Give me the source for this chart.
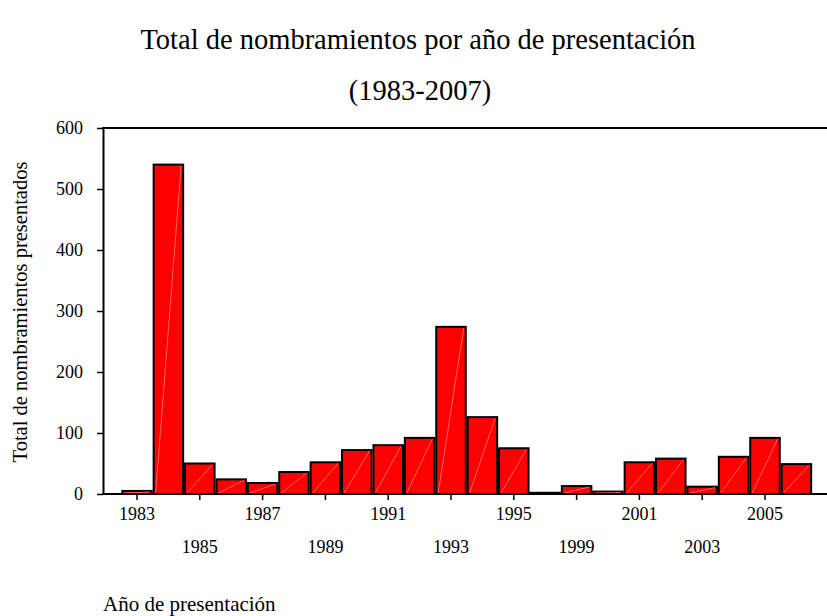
<!DOCTYPE html>
<html lang="es">
  <head>
    <meta charset="UTF-8" />
    <title>Total de nombramientos</title>
    <script src="https://d3js.org/d3.v7.min.js"></script>
    <style>
      body {
        margin: 0;
        background: #fff;
      }
      text {
        font-family: "Liberation Serif", "Times New Roman", serif;
        fill: #000;
      }
    </style>
  </head>
  <body>
    <div class="chart"></div>

    <script>
      // años (1997 y 1998 no aparecen en el gráfico)
      var years = [
        "1983", "1984", "1985", "1986", "1987", "1988", "1989", "1990",
        "1991", "1992", "1993", "1994", "1995", "1996", "1999", "2000",
        "2001", "2002", "2003", "2004", "2005", "2006"
      ];
      var totals = [
        5, 540, 50, 24, 18, 36, 52, 72, 80, 92, 274, 126, 75, 2, 13, 4,
        52, 58, 12, 61, 92, 49
      ];
      var yTicks = [0, 100, 200, 300, 400, 500, 600];

      var W = 827, H = 616;
      var plotLeft = 103, plotBottom = 494, plotTop = 128;

      var data = years.map(function (y, i) {
        return { year: y, value: totals[i], i: i };
      });

      var svg = d3
        .select(".chart")
        .append("svg")
        .attr("width", W)
        .attr("height", H);

      var xScale = d3
        .scaleBand()
        .domain(years)
        .range([plotLeft, 830.4])
        .paddingInner(0.06)
        .paddingOuter(0.613);

      var yScale = d3
        .scaleLinear()
        .domain([0, 600])
        .range([plotBottom, plotTop]);

      // titulo
      svg
        .append("text")
        .attr("x", 418)
        .attr("y", 49)
        .attr("text-anchor", "middle")
        .style("font-size", "28.5px")
        .text("Total de nombramientos por año de presentación");
      svg
        .append("text")
        .attr("x", 420)
        .attr("y", 100)
        .attr("text-anchor", "middle")
        .style("font-size", "28.5px")
        .text("(1983-2007)");

      // barras
      var bars = svg.append("g");
      bars
        .selectAll("rect")
        .data(data)
        .enter()
        .append("rect")
        .attr("x", (d) => xScale(d.year))
        .attr("y", (d) => yScale(d.value))
        .attr("width", xScale.bandwidth())
        .attr("height", (d) => yScale(0) - yScale(d.value))
        .attr("fill", "#ff0000")
        .attr("stroke", "#000")
        .attr("stroke-width", 2);

      // linea diagonal tenue dentro de cada barra
      bars
        .selectAll("line")
        .data(data.filter((d) => d.value > 3))
        .enter()
        .append("line")
        .attr("x1", (d) => xScale(d.year) + 2)
        .attr("y1", yScale(0) - 1)
        .attr("x2", (d) => xScale(d.year) + xScale.bandwidth() - 2)
        .attr("y2", (d) => yScale(d.value) + 1)
        .attr("stroke", "#ff9c9c")
        .attr("stroke-opacity", 0.8)
        .attr("stroke-width", 0.8);

      // eje y
      var yAxis = d3
        .axisLeft(yScale)
        .tickValues(yTicks)
        .tickSize(6)
        .tickSizeOuter(0)
        .tickPadding(14);
      var gy = svg
        .append("g")
        .attr("transform", "translate(" + plotLeft + ",0)")
        .call(yAxis);
      gy.selectAll("text").style("font-size", "18px");
      gy.select(".domain").attr("stroke-width", 2);
      gy.selectAll(".tick line").attr("stroke-width", 1.5);

      // linea superior
      svg
        .append("line")
        .attr("x1", plotLeft - 1)
        .attr("x2", W)
        .attr("y1", yScale(600))
        .attr("y2", yScale(600))
        .attr("stroke", "#000")
        .attr("stroke-width", 2);

      // eje x
      var shown = years.filter((d, i) => i % 2 === 0);
      var xAxis = d3
        .axisBottom(xScale)
        .tickValues(shown)
        .tickSize(6)
        .tickSizeOuter(0)
        .tickPadding(10);
      var gx = svg
        .append("g")
        .attr("transform", "translate(0," + plotBottom + ")")
        .call(xAxis);
      gx.select(".domain").remove();
      gx.selectAll(".tick line").attr("stroke-width", 1.5);
      gx.selectAll("text")
        .style("font-size", "18px")
        .attr("dy", null)
        .attr("y", (d) => (years.indexOf(d) % 4 === 0 ? 26 : 59));

      svg
        .append("line")
        .attr("x1", plotLeft - 1)
        .attr("x2", W)
        .attr("y1", plotBottom)
        .attr("y2", plotBottom)
        .attr("stroke", "#000")
        .attr("stroke-width", 2);

      // etiquetas de ejes
      svg
        .append("text")
        .attr("transform", "translate(27,312) rotate(-90)")
        .attr("text-anchor", "middle")
        .style("font-size", "20.5px")
        .text("Total de nombramientos presentados");

      svg
        .append("text")
        .attr("x", plotLeft)
        .attr("y", 611)
        .style("font-size", "21px")
        .text("Año de presentación");
    </script>
  </body>
</html>
